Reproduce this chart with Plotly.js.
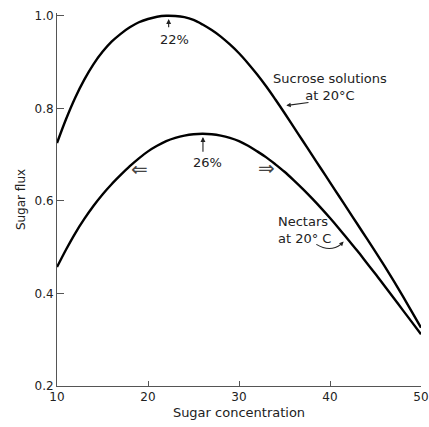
<!DOCTYPE html>
<html>
<head>
<meta charset="utf-8">
<script src="https://cdn.plot.ly/plotly-3.0.1.min.js"></script>
<style>html,body{margin:0;padding:0;background:#fff;}#chart{width:429px;height:427px;}</style>
</head>
<body>
<div id="chart"></div>
<script>
// Sucrose solutions at 20°C
const sucroseX = [10, 11, 12, 13, 14, 15, 16, 17, 18, 19, 20, 21, 22, 23, 24, 25, 26, 27, 28, 29, 30, 31, 32, 33, 34, 35, 36, 37, 38, 39, 40, 41, 42, 43, 44, 45, 46, 47, 48, 49, 50];
const sucroseY = [0.725, 0.777, 0.823, 0.862, 0.895, 0.922, 0.944, 0.961, 0.975, 0.986, 0.993, 0.998, 1.0, 0.9995, 0.997, 0.991, 0.981, 0.969, 0.955, 0.938, 0.919, 0.897, 0.873, 0.847, 0.819, 0.790, 0.760, 0.730, 0.700, 0.670, 0.640, 0.610, 0.580, 0.550, 0.520, 0.490, 0.459, 0.427, 0.394, 0.360, 0.326];
// Nectars at 20°C
const nectarX = [10, 11, 12, 13, 14, 15, 16, 17, 18, 19, 20, 21, 22, 23, 24, 25, 26, 27, 28, 29, 30, 31, 32, 33, 34, 35, 36, 37, 38, 39, 40, 41, 42, 43, 44, 45, 46, 47, 48, 49, 50];
const nectarY = [0.457, 0.495, 0.530, 0.561, 0.589, 0.614, 0.636, 0.656, 0.675, 0.692, 0.707, 0.719, 0.729, 0.736, 0.741, 0.744, 0.745, 0.744, 0.741, 0.736, 0.729, 0.719, 0.707, 0.694, 0.679, 0.663, 0.645, 0.626, 0.606, 0.585, 0.563, 0.540, 0.516, 0.492, 0.467, 0.442, 0.416, 0.390, 0.364, 0.338, 0.312];
// axis ticks
const xTicks = [10, 20, 30, 40, 50];
const xTickText = ['10', '20', '30', '40', '50'];
const yTicks = [0.2, 0.4, 0.6, 0.8, 1.0];
const yTickText = ['0.2', '0.4', '0.6', '0.8', '1.0'];

const font = 'DejaVu Sans, Arial, sans-serif';
const ink = '#222';

const traces = [
  {x: sucroseX, y: sucroseY, mode: 'lines', line: {color: '#000', width: 2.4, shape: 'spline', smoothing: 1}, cliponaxis: false, showlegend: false, hoverinfo: 'skip'},
  {x: nectarX, y: nectarY, mode: 'lines', line: {color: '#000', width: 2.4, shape: 'spline', smoothing: 1}, cliponaxis: false, showlegend: false, hoverinfo: 'skip'}
];

const ann = [
  {x: 22.9, y: 0.948, text: '22%', showarrow: false, font: {family: font, size: 13, color: ink}},
  {x: 22.27, y: 0.993, ax: 22.27, ay: 0.972, axref: 'x', ayref: 'y', text: '', showarrow: true, arrowhead: 2, arrowsize: 0.9, arrowwidth: 1.1, arrowcolor: ink},
  {x: 26.56, y: 0.683, text: '26%', showarrow: false, font: {family: font, size: 13, color: ink}},
  {x: 26.04, y: 0.738, ax: 26.04, ay: 0.703, axref: 'x', ayref: 'y', text: '', showarrow: true, arrowhead: 2, arrowsize: 0.9, arrowwidth: 1.1, arrowcolor: ink},
  {x: 19.07, y: 0.669, text: '\u21D0', showarrow: false, font: {family: font, size: 20, color: '#444'}},
  {x: 33.0, y: 0.672, text: '\u21D2', showarrow: false, font: {family: font, size: 20, color: '#444'}},
  {x: 40.0, y: 0.846, text: 'Sucrose solutions<br>at 20°C', showarrow: false, align: 'center', font: {family: font, size: 13, color: ink}, yanchor: 'middle'},
  {x: 35.2, y: 0.806, ax: 37.8, ay: 0.813, axref: 'x', ayref: 'y', text: '', showarrow: true, arrowhead: 2, arrowsize: 0.8, arrowwidth: 1.1, arrowcolor: ink},
  {x: 34.1, y: 0.537, text: 'Nectars<br>at 20° C', showarrow: false, align: 'left', xanchor: 'left', yanchor: 'middle', font: {family: font, size: 13, color: ink}},
  {x: 41.5, y: 0.512, ax: 41.0, ay: 0.502, axref: 'x', ayref: 'y', text: '', showarrow: true, arrowhead: 2, arrowsize: 0.8, arrowwidth: 1.1, arrowcolor: ink}
];

const shapes = [
  {type: 'path', path: 'M 38.5,0.506 Q 40.0,0.488 41.2,0.506', line: {color: ink, width: 1.1}}
];

const layout = {
  width: 429, height: 427,
  margin: {l: 57, r: 8, t: 13, b: 41, pad: 0},
  paper_bgcolor: '#fff', plot_bgcolor: '#fff',
  xaxis: {
    range: [10, 50], tickvals: xTicks, ticktext: xTickText,
    ticks: 'inside', ticklen: 5, tickwidth: 1, tickcolor: '#555',
    showline: true, linecolor: '#555', linewidth: 1, showgrid: false, zeroline: false,
    tickfont: {family: font, size: 12, color: ink},
    title: {text: 'Sugar concentration', font: {family: font, size: 13, color: ink}, standoff: 4}
  },
  yaxis: {
    range: [0.2, 1.006], tickvals: yTicks, ticktext: yTickText,
    ticks: 'inside', ticklen: 7, tickwidth: 1, tickcolor: '#555',
    showline: true, linecolor: '#555', linewidth: 1, showgrid: false, zeroline: false,
    tickfont: {family: font, size: 12, color: ink},
    title: {text: 'Sugar flux', font: {family: font, size: 12, color: ink}, standoff: 6}
  },
  annotations: ann,
  shapes: shapes,
  showlegend: false
};

Plotly.newPlot('chart', traces, layout, {staticPlot: true, displayModeBar: false});
</script>
</body>
</html>
